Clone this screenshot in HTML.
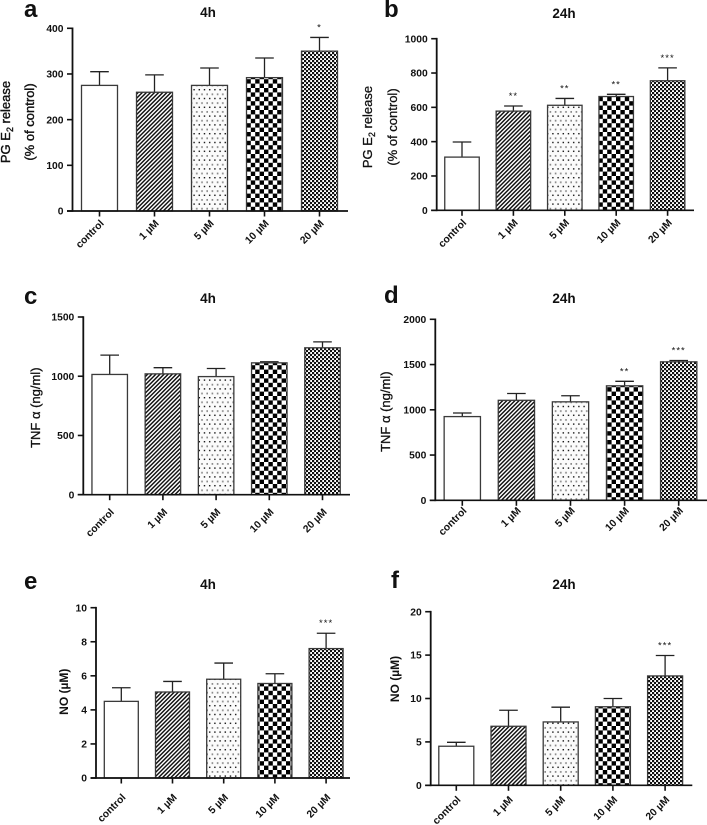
<!DOCTYPE html>
<html lang="en">
<head>
<meta charset="utf-8">
<title>PG E2, TNF alpha and NO release bar charts</title>
<style>
html,body{margin:0;padding:0;background:#fff;}
body{width:707px;height:825px;overflow:hidden;}
svg{display:block;font-family:"Liberation Sans",Arial,sans-serif;}
text{fill:#111;}
</style>
</head>
<body>
<svg id="figure" xmlns="http://www.w3.org/2000/svg" width="707" height="825" viewBox="0 0 707 825">
  <defs>
    <pattern id="pat-stripe" patternUnits="userSpaceOnUse" width="2.9" height="2.9" patternTransform="rotate(-45)">
      <rect width="2.9" height="2.9" fill="#fff"/>
      <rect width="2.9" height="1.45" fill="#111"/>
    </pattern>
    <pattern id="pat-dots" patternUnits="userSpaceOnUse" width="5.2" height="8.8">
      <rect width="5.2" height="8.8" fill="#fbfbfb"/>
      <rect x="1" y="1" width="1.4" height="1.4" fill="#111"/>
      <rect x="3.6" y="5.4" width="1.8" height="1.8" fill="#888"/>
    </pattern>
    <pattern id="pat-check" patternUnits="userSpaceOnUse" width="8.8" height="8.8">
      <rect width="8.8" height="8.8" fill="#fff"/>
      <rect width="4.4" height="4.4" fill="#000"/>
      <rect x="4.4" y="4.4" width="4.4" height="4.4" fill="#000"/>
    </pattern>
    <pattern id="pat-fine" patternUnits="userSpaceOnUse" width="4" height="4">
      <rect width="4" height="4" fill="#fff"/>
      <rect width="2.2" height="2.2" fill="#111"/>
      <rect x="2" y="2" width="2.2" height="2.2" fill="#111"/>
    </pattern>
  </defs>
</svg>
<script>
const categories = ['control', '1 µM', '5 µM', '10 µM', '20 µM'];

const aValues = [275, 260, 275, 292, 350];
const aErrorTops = [305, 298, 313, 335, 380];
const aSignificance = ['', '', '', '', '*'];
const aTicks = [0, 100, 200, 300, 400];

const bValues = [310, 578, 612, 663, 755];
const bErrorTops = [398, 608, 652, 676, 830];
const bSignificance = ['', '**', '**', '**', '***'];
const bTicks = [0, 200, 400, 600, 800, 1000];

const cValues = [1015, 1020, 997, 1113, 1240];
const cErrorTops = [1178, 1072, 1065, 1122, 1290];
const cSignificance = ['', '', '', '', ''];
const cTicks = [0, 500, 1000, 1500];

const dValues = [925, 1105, 1088, 1265, 1530];
const dErrorTops = [965, 1180, 1155, 1315, 1545];
const dSignificance = ['', '', '', '**', '***'];
const dTicks = [0, 500, 1000, 1500, 2000];

const eValues = [4.5, 5.05, 5.8, 5.55, 7.6];
const eErrorTops = [5.3, 5.67, 6.75, 6.12, 8.5];
const eSignificance = ['', '', '', '', '***'];
const eTicks = [0, 2, 4, 6, 8, 10];

const fValues = [4.5, 6.8, 7.3, 9.05, 12.6];
const fErrorTops = [4.95, 8.65, 9, 10, 14.95];
const fSignificance = ['', '', '', '', '***'];
const fTicks = [0, 5, 10, 15, 20];

const NS = 'http://www.w3.org/2000/svg';
const figure = document.getElementById('figure');
const fills = ['#fff', 'url(#pat-stripe)', 'url(#pat-dots)', 'url(#pat-check)', 'url(#pat-fine)'];

function mk(tag, attrs, parent) {
  const el = document.createElementNS(NS, tag);
  for (const k in attrs) el.setAttribute(k, attrs[k]);
  parent.appendChild(el);
  return el;
}

function line(parent, x1, y1, x2, y2, width, color) {
  return mk('line', {x1: x1, y1: y1, x2: x2, y2: y2, stroke: color || '#111', 'stroke-width': width}, parent);
}

function yTitle(parent, x, y, size, weight, stroke, parts, name) {
  const t = mk('text', {
    transform: 'translate(' + x + ',' + y + ') rotate(-90)',
    'text-anchor': 'middle',
    'font-size': size,
    'font-weight': weight,
    stroke: '#111',
    'stroke-width': stroke
  }, parent);
  
  
  parts.forEach(function (p) {
    const s = mk('tspan', {}, t);
    s.textContent = p.text;
    if (p.sub) {
      s.setAttribute('font-size', size * 0.68);
      s.setAttribute('dy', 3);
    } else if (p.after) {
      s.setAttribute('dy', -3);
    }
  });
}

function drawPanel(p) {
  const g = mk('g', {}, figure);
  
  

  const yScale = function (v) { return p.y0 - (v / p.max) * (p.y0 - p.yTop); };
  const xScale = function (i) { return p.x0 + p.gap * i; };

  const letter = mk('text', {x: p.letterX, y: p.letterY, 'font-size': 24, 'font-weight': 'bold'}, g);
  letter.textContent = p.letter;
  
  

  const title = mk('text', {x: p.titleX, y: p.titleY, 'font-size': 13.5, 'font-weight': 'bold', 'text-anchor': 'middle'}, g);
  title.textContent = p.title;
  
  

  p.values.forEach(function (v, i) {
    const cx = xScale(i);
    const top = yScale(v);
    const errTop = yScale(p.errorTops[i]);

    const stem = line(g, cx, errTop, cx, top, 1.3, '#222');
    
    

    const cap = line(g, cx - 9.3, errTop, cx + 9.3, errTop, 1.3, '#222');
    
    

    const bar = mk('rect', {
      x: cx - p.barW / 2, y: top, width: p.barW, height: p.y0 - top,
      fill: fills[i], stroke: '#3a3a3a', 'stroke-width': 1.3
    }, g);
    
    

    if (p.significance[i]) {
      const star = mk('text', {x: cx, y: errTop - 7, 'font-size': 9.5, 'text-anchor': 'middle', 'letter-spacing': 1}, g);
      star.textContent = p.significance[i];
      
      
    }

    const xTick = line(g, cx, p.y0, cx, p.y0 + 5.5, 1.6);
    
    

    const lab = mk('text', {
      transform: 'translate(' + (cx + 5) + ',' + (p.y0 + p.labelDy) + ') rotate(-45)',
      'font-size': 10.3, 'font-weight': 'bold', 'text-anchor': 'end'
    }, g);
    lab.textContent = categories[i];
    
    
  });

  p.ticks.forEach(function (t) {
    const y = yScale(t);
    const tick = line(g, p.axisX - 5.5, y, p.axisX, y, 1.6);
    
    

    const lab = mk('text', {x: p.axisX - 9, y: y + 3.6, 'font-size': 10.3, 'font-weight': 'bold', 'text-anchor': 'end'}, g);
    lab.textContent = String(t);
    
    
  });

  const yAxis = line(g, p.axisX, p.yTop - 0.8, p.axisX, p.y0 + 0.8, 1.8);
  
  

  const xAxis = line(g, p.axisX - 5.5, p.y0, p.xEnd, p.y0, 1.7);
  
  

  return g;
}

const panelA = drawPanel({letter: 'a', title: '4h', values: aValues, errorTops: aErrorTops, significance: aSignificance, ticks: aTicks, max: 400,
  axisX: 72.5, y0: 211, yTop: 28.3, xEnd: 348, x0: 99.5, gap: 55, barW: 36, labelDy: 13, letterX: 24, letterY: 17, titleX: 208, titleY: 17});
yTitle(panelA, 10, 122, 13, 'normal', 0.4, [{text: 'PG E'}, {text: '2', sub: true}, {text: ' release', after: true}], 'y-axis-title');
yTitle(panelA, 34, 122, 13, 'normal', 0.4, [{text: '(% of control)'}], 'y-axis-subtitle');

const panelB = drawPanel({letter: 'b', title: '24h', values: bValues, errorTops: bErrorTops, significance: bSignificance, ticks: bTicks, max: 1000,
  axisX: 436.7, y0: 210.3, yTop: 38.7, xEnd: 694, x0: 462, gap: 51.4, barW: 34.5, labelDy: 13, letterX: 384, letterY: 17, titleX: 564, titleY: 18});
yTitle(panelB, 372, 127, 13, 'normal', 0.3, [{text: 'PG E'}, {text: '2', sub: true}, {text: ' release', after: true}], 'y-axis-title');
yTitle(panelB, 397, 127, 13, 'normal', 0.3, [{text: '(% of control)'}], 'y-axis-subtitle');

const panelC = drawPanel({letter: 'c', title: '4h', values: cValues, errorTops: cErrorTops, significance: cSignificance, ticks: cTicks, max: 1500,
  axisX: 83.3, y0: 494.7, yTop: 317, xEnd: 350, x0: 109.7, gap: 53.2, barW: 35.5, labelDy: 18, letterX: 24, letterY: 304, titleX: 208, titleY: 303});
yTitle(panelC, 40, 407.7, 13, 'normal', 0.3, [{text: 'TNF α (ng/ml)'}], 'y-axis-title');

const panelD = drawPanel({letter: 'd', title: '24h', values: dValues, errorTops: dErrorTops, significance: dSignificance, ticks: dTicks, max: 2000,
  axisX: 435.3, y0: 500.3, yTop: 319.3, xEnd: 707, x0: 462.3, gap: 54.1, barW: 36.3, labelDy: 11, letterX: 384, letterY: 303, titleX: 564, titleY: 303});
yTitle(panelD, 390, 411.7, 13, 'normal', 0.3, [{text: 'TNF α (ng/ml)'}], 'y-axis-title');

const panelE = drawPanel({letter: 'e', title: '4h', values: eValues, errorTops: eErrorTops, significance: eSignificance, ticks: eTicks, max: 10,
  axisX: 96, y0: 778, yTop: 607.7, xEnd: 350, x0: 121.3, gap: 51.2, barW: 34, labelDy: 20, letterX: 24, letterY: 589, titleX: 208, titleY: 589});
yTitle(panelE, 68, 691.7, 12, 'bold', 0, [{text: 'NO (µM)'}], 'y-axis-title');

const panelF = drawPanel({letter: 'f', title: '24h', values: fValues, errorTops: fErrorTops, significance: fSignificance, ticks: fTicks, max: 20,
  axisX: 430.7, y0: 785.3, yTop: 611.7, xEnd: 692.3, x0: 456.3, gap: 52.2, barW: 35, labelDy: 15, letterX: 391, letterY: 588, titleX: 564, titleY: 589});
yTitle(panelF, 399, 679, 12, 'bold', 0, [{text: 'NO (µM)'}], 'y-axis-title');
</script>
</body>
</html>
